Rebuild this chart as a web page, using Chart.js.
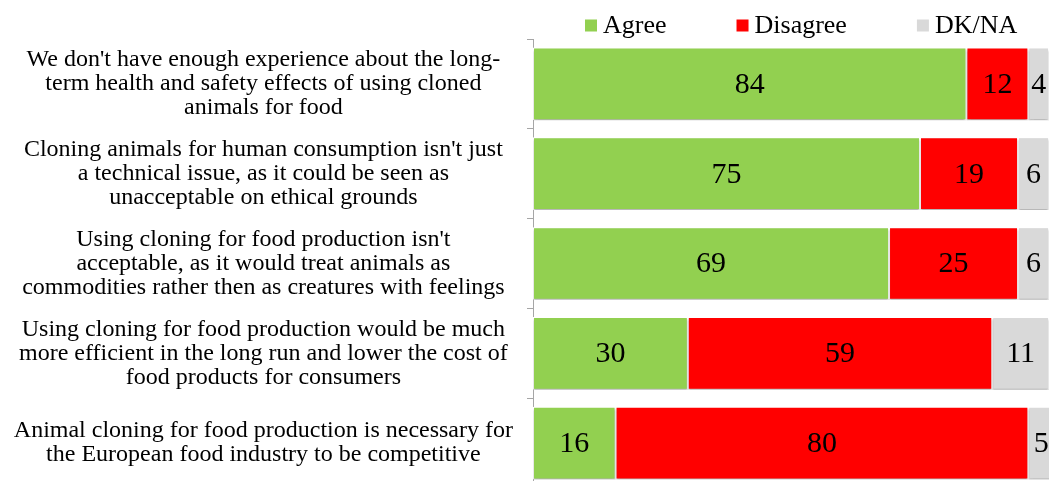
<!DOCTYPE html>
<html>
<head>
<meta charset="utf-8">
<script src="https://cdn.jsdelivr.net/npm/chart.js@4.4.1/dist/chart.umd.min.js"></script>
<style>
  html, body { margin: 0; padding: 0; background: #fff; overflow: hidden; }
  canvas { display: block; }
</style>
</head>
<body>
<canvas id="chart" width="1049" height="488"></canvas>
<script>
const statements = [
  ["We don't have enough experience about the long-", "term health and safety effects of using cloned", "animals for food"],
  ["Cloning animals for human consumption isn't just", "a technical issue, as it could be seen as", "unacceptable on ethical grounds"],
  ["Using cloning for food production isn't", "acceptable, as it would treat animals as", "commodities rather then as creatures with feelings"],
  ["Using cloning for food production would be much", "more efficient in the long run and lower the cost of", "food products for consumers"],
  ["Animal cloning for food production is necessary for", "the European food industry to be competitive"]
];
const agree = [84, 75, 69, 30, 16];
const disagree = [12, 19, 25, 59, 80];
const dkna = [4, 6, 6, 11, 5];
const seriesNames = ['Agree', 'Disagree', 'DK/NA'];
const colors = ['#92d050', '#ff0000', '#d9d9d9'];

const serif = '"Liberation Serif", "DejaVu Serif", serif';

// soft shadow under the bars
const barShadow = {
  id: 'barShadow',
  beforeDatasetsDraw(chart) {
    const ctx = chart.ctx;
    ctx.save();
    ctx.shadowColor = 'rgba(0,0,0,0.3)';
    ctx.shadowBlur = 2;
    ctx.shadowOffsetY = 2;
  },
  afterDatasetsDraw(chart) {
    chart.ctx.restore();
  }
};

// numbers in the middle of each segment
const valueLabels = {
  id: 'valueLabels',
  afterDraw(chart) {
    const ctx = chart.ctx;
    ctx.save();
    ctx.font = '30px ' + serif;
    ctx.fillStyle = '#000';
    ctx.textAlign = 'center';
    ctx.textBaseline = 'middle';
    chart.data.datasets.forEach((ds, i) => {
      chart.getDatasetMeta(i).data.forEach((bar, j) => {
        ctx.fillText(String(ds.data[j]), (bar.x + bar.base) / 2, bar.y + 1);
      });
    });
    ctx.restore();
  }
};

// legend row above the plot
const topLegend = {
  id: 'topLegend',
  afterDraw(chart) {
    const ctx = chart.ctx;
    ctx.save();
    ctx.font = '26px ' + serif;
    ctx.textBaseline = 'middle';
    let x = 585;
    chart.data.datasets.forEach(ds => {
      ctx.fillStyle = ds.backgroundColor;
      ctx.fillRect(x, 19.5, 12, 12);
      ctx.fillStyle = '#000';
      ctx.fillText(ds.label, x + 18, 26);
      x += 18 + ctx.measureText(ds.label).width + 70;
    });
    ctx.restore();
  }
};

const ctx = document.getElementById('chart').getContext('2d');
new Chart(ctx, {
  type: 'bar',
  data: {
    labels: statements,
    datasets: [agree, disagree, dkna].map((vals, i) => ({
      label: seriesNames[i],
      data: vals,
      backgroundColor: colors[i],
      borderColor: '#ffffff',
      borderWidth: 1,
      borderSkipped: false,
      barPercentage: 0.81,
      categoryPercentage: 1.0
    }))
  },
  options: {
    indexAxis: 'y',
    responsive: false,
    animation: false,
    layout: { padding: { top: 39, left: 0, right: 0, bottom: 0 } },
    scales: {
      x: { display: false, stacked: true, min: 0, max: 100 },
      y: {
        stacked: true,
        grid: { offset: true, drawOnChartArea: false, drawTicks: true, tickLength: 6, color: '#a6a6a6' },
        border: { display: true, color: '#a6a6a6', width: 1 },
        ticks: {
          crossAlign: 'center',
          padding: 14,
          color: '#000',
          font: { family: serif, size: 24, lineHeight: 1.0 }
        },
        afterFit(scale) {
          scale.width = 533;
          scale.paddingTop = 0;
          scale.paddingBottom = 0;
        }
      }
    },
    plugins: {
      legend: { display: false },
      tooltip: { enabled: false }
    }
  },
  plugins: [barShadow, valueLabels, topLegend]
});
</script>
</body>
</html>
